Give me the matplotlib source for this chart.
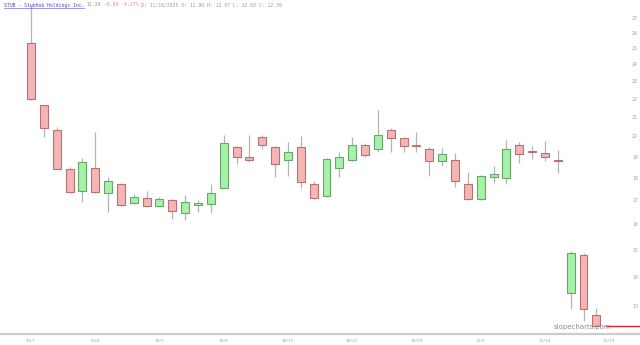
import numpy as np
import matplotlib; matplotlib.use("Agg")
import matplotlib.pyplot as plt
from matplotlib.lines import Line2D

# daily OHLC, STUB, from 9/17
opens  = [25.35, 21.67, 20.34, 18.43, 17.43, 18.48, 17.34, 17.74, 16.91, 17.13,
          16.78, 17.04, 16.49, 16.83, 16.87, 17.56, 19.49, 19.00, 19.98, 19.49,
          18.86, 19.49, 17.74, 17.21, 18.48, 18.86, 19.58, 19.39, 20.34, 19.93,
          19.60, 19.39, 18.81, 18.86, 17.74, 17.08, 18.06, 18.01, 19.58, 19.26,
          19.19, 18.83, 13.46, 14.82, 12.75]
highs  = [27.89, 21.67, 20.50, 18.52, 18.95, 20.24, 18.06, 17.79, 17.30, 17.43,
          17.17, 17.08, 17.26, 17.04, 17.74, 20.09, 19.53, 20.09, 20.09, 19.53,
          19.73, 20.03, 17.88, 18.95, 19.24, 19.98, 19.68, 21.40, 20.45, 19.98,
          20.24, 19.49, 19.44, 19.19, 18.29, 18.15, 18.57, 19.83, 19.73, 19.53,
          19.78, 19.34, 14.97, 14.90, 12.97]
lows   = [21.95, 19.98, 18.43, 17.34, 16.95, 17.34, 16.53, 16.80, 16.87, 16.74,
          16.74, 16.24, 16.20, 16.53, 16.49, 17.56, 18.66, 18.76, 19.39, 18.06,
          18.11, 17.56, 17.08, 17.17, 18.06, 18.81, 19.00, 19.24, 19.24, 19.24,
          19.24, 18.11, 18.57, 17.61, 17.04, 17.04, 17.79, 17.74, 18.71, 18.90,
          18.81, 18.24, 12.93, 12.54, 12.30]
closes = [22.00, 20.45, 18.43, 17.39, 18.76, 17.39, 17.88, 16.83, 17.17, 16.78,
          17.08, 16.57, 16.95, 16.91, 17.34, 19.68, 19.00, 18.86, 19.58, 18.66,
          19.24, 17.83, 17.13, 18.90, 19.00, 19.58, 19.09, 20.09, 19.93, 19.53,
          19.55, 18.81, 19.14, 17.88, 17.08, 18.11, 18.20, 19.39, 19.14, 19.22,
          19.00, 18.79, 14.90, 12.93, 12.39]
date_labels = ["9/17", "9/24", "10/1", "10/8", "10/15", "10/22", "10/29", "11/5", "11/12", "11/19"]
price_ticks = list(range(13, 28))
title_parts = [("STUB - StubHub Holdings Inc.", "#4a4ad0"), ("12.39", "#9a9a9a"),
               ("-0.54 -4.17%", "#e88080"),
               ("D: 11/18/2025 O: 12.90 H: 12.97 L: 12.03 C: 12.39", "#9a9a9a")]

W, H = 640, 345
fig = plt.figure(figsize=(W / 100, H / 100), dpi=100)
ax = fig.add_axes([0, (H - 334) / H, 620 / W, 334 / H])
ax.set_yscale("log")
ax.set_ylim(12.14, 28.27)
ax.set_xlim(-2.41, 45.84)
for s in ax.spines.values(): s.set_visible(False)
ax.set_xticks([]); ax.set_yticks([])
ax.yaxis.set_minor_locator(matplotlib.ticker.NullLocator())

x = np.arange(len(opens))
o, h, l, c = map(np.array, (opens, highs, lows, closes))
up = c >= o
ax.vlines(x, l, h, color="#b4b4b4", lw=0.9, zorder=1)
bw = 0.62
for i in x:
    lo, hi = min(o[i], c[i]), max(o[i], c[i])
    if hi / lo < 1.003: hi = lo * 1.003
    fc, ec = ("#a6f2a6", "#6aa66a") if up[i] else ("#f7b4b4", "#b57272")
    ax.bar(i, hi - lo, bottom=lo, width=bw, color=fc, edgecolor=ec, lw=0.8, zorder=2)

# current price line
ax.plot([44.75, 47.6], [closes[-1]] * 2, color="#d62728", lw=1.0, clip_on=False, zorder=3)

# right price labels
for p in price_ticks:
    ax.text(1.0 + 15 / 620, p, str(p), transform=ax.get_yaxis_transform(),
            fontsize=3.3, color="#a0a0a0", ha="center", va="center", clip_on=False)

# bottom axis line and date labels
fig.add_artist(Line2D([0, 1], [(H - 334) / H] * 2, color="#cccccc", lw=1.6))
for k, lab in enumerate(date_labels):
    ax.text(k * 5, -0.015, lab, transform=ax.get_xaxis_transform(), fontsize=3.2,
            color="#a0a0a0", ha="center", va="top", clip_on=False)

ax.text(0.985, 0.012, "slopecharts.com", transform=ax.transAxes, fontsize=5,
        color="#8c8c8c", ha="right", va="bottom")

# title line, monospace pieces
cw = 2.85
pos = 4
for txt, col in title_parts:
    fig.text(pos / W, 1 - 5 / H, txt, fontsize=3.4, family="DejaVu Sans Mono",
             color=col, ha="left", va="center")
    if txt.startswith("STUB"):
        fig.add_artist(Line2D([pos / W, (pos + cw * len(txt)) / W], [1 - 7.5 / H] * 2,
                              color=col, lw=0.4))
    pos += cw * (len(txt) + 1)

fig.savefig("out.png", dpi=100)
